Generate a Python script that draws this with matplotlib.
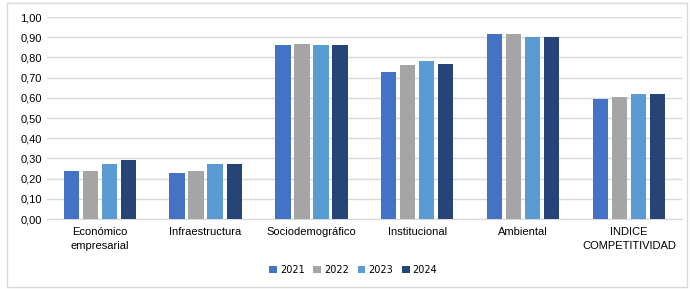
import numpy as np
import matplotlib.pyplot as plt
from matplotlib.patches import Rectangle

plt.rcParams['font.family'] = ['Liberation Sans', 'DejaVu Sans']

# Datos
categorias = ['Económico\nempresarial', 'Infraestructura', 'Sociodemográfico',
              'Institucional', 'Ambiental', 'INDICE\nCOMPETITIVIDAD']
anios = ['2021', '2022', '2023', '2024']
v2021 = [0.24, 0.23, 0.863, 0.73, 0.916, 0.596]
v2022 = [0.24, 0.239, 0.866, 0.762, 0.916, 0.604]
v2023 = [0.271, 0.271, 0.863, 0.781, 0.901, 0.617]
v2024 = [0.29, 0.274, 0.863, 0.767, 0.901, 0.619]
colores = ['#4472C4', '#A5A5A5', '#5B9BD5', '#264478']

fig = plt.figure(figsize=(6.9, 2.89), dpi=100)
ax = fig.add_axes([0.068, 0.242, 0.920, 0.699])

x = np.arange(len(categorias))
paso = 0.18
ancho = 0.145
for i, (serie, c, a) in enumerate(zip([v2021, v2022, v2023, v2024], colores, anios)):
    ax.bar(x + (i - 1.5) * paso, serie, ancho, color=c, label=a, zorder=3)

ax.set_xlim(-0.5, len(categorias) - 0.5)
ax.set_ylim(0, 1.0)
ax.set_yticks(np.arange(0, 1.01, 0.1))
ax.set_yticklabels([f'{v:.2f}'.replace('.', ',') for v in np.arange(0, 1.01, 0.1)])
ax.set_xticks(x)
ax.set_xticklabels(categorias, linespacing=1.4)
ax.tick_params(axis='both', length=0, labelsize=8, colors='#000000')
ax.tick_params(axis='x', pad=6)
ax.grid(axis='y', color='#d9d9d9', linewidth=1, zorder=0)
for s in ['top', 'right', 'left']:
    ax.spines[s].set_visible(False)
ax.spines['bottom'].set_color('#d9d9d9')

fig.legend(loc='center', bbox_to_anchor=(0.512, 0.066), ncol=4, frameon=False,
           prop={'family': ['DejaVu Sans'], 'size': 7}, handlelength=0.8,
           handleheight=0.8, handletextpad=0.3, columnspacing=0.9)

fig.patches.append(Rectangle((0.010, 0.007), 0.985, 0.983, transform=fig.transFigure,
                             fill=False, edgecolor='#d9d9d9', linewidth=1))

fig.savefig('out.png', dpi=100)
